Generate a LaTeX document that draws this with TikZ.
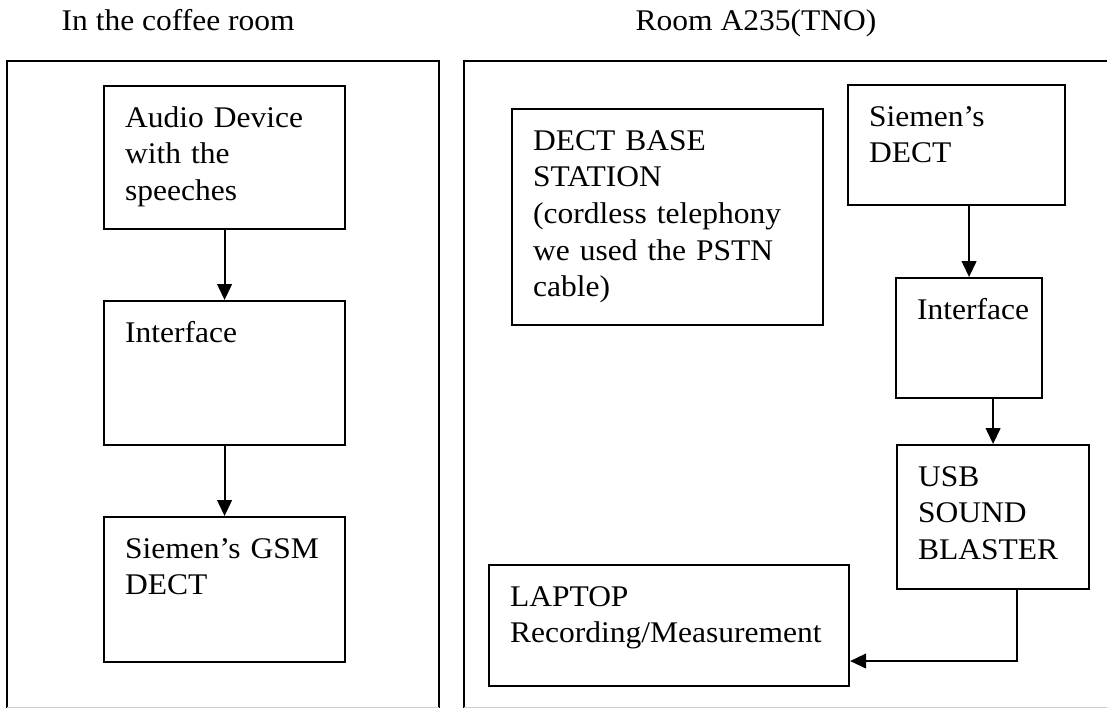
\documentclass[tikz,border=0pt]{standalone}
\usepackage{fontspec}
\setmainfont[FakeStretch=1.05]{Liberation Serif}
\usetikzlibrary{arrows.meta}

\begin{document}
\begin{tikzpicture}[x=0.75pt, y=-0.75pt,
    txt/.style={font=\fontsize{22.5}{27.5}\selectfont},
    room/.style={line width=1.6pt},
    unit/.style={draw, line width=1.6pt, anchor=north west, align=left,
      inner xsep=15.75pt, inner ysep=0pt, text height=30.75pt, txt},
    link/.style={line width=1.6pt, -{Triangle[length=12pt, width=11pt]}}]
  \useasboundingbox (0,0) rectangle (1107,708);

  % ---- the two rooms ----
  \node[txt, anchor=base west] (coffee) at (57,30) {In the coffee room};
  \node[txt, anchor=base west] (tno) at (631,30) {Room A235(TNO)};
  \draw[room] (7,708) |- (439,61) -- (439,708);
  \draw[room] (464,708) |- (1115,61);
  \draw[gray!40] (7,707.5) -- (439,707.5) (464,707.5) -- (1107,707.5);

  % ---- coffee room chain ----
  \node[unit, text width=149.25pt, text depth=76.5pt] (audio) at (103,85)
    {Audio Device\\with the\\speeches};
  \node[unit, text width=149.25pt, text depth=77.25pt] (iface1) at (103,300)
    {Interface};
  \node[unit, text width=149.25pt, text depth=78pt] (gsm) at (103,516)
    {Siemen's GSM\\DECT};
  \draw[link] (audio.south) -- (iface1.north);
  \draw[link] (iface1.south) -- (gsm.north);

  % ---- room A235 chain ----
  \node[unit, text width=201.75pt, text depth=131.25pt] (base) at (511,108)
    {DECT BASE\\STATION\\(cordless telephony\\we used the PSTN\\cable)};
  \node[unit, text width=131.25pt, text depth=59.25pt] (sdect) at (847,84)
    {Siemen's\\DECT};
  \node[unit, text width=78pt, text depth=59.25pt] (iface2) at (895,277)
    {Interface};
  \node[unit, text width=112.5pt, text depth=77.25pt] (usb) at (896,444)
    {USB\\SOUND\\BLASTER};
  \node[unit, text width=238.5pt, text depth=60pt] (laptop) at (488,564)
    {LAPTOP\\Recording/Measurement};
  \draw[link] (sdect.south -| iface2.north) -- (iface2.north);
  \draw[link] (iface2.south -| usb.north) -- (usb.north);
  \draw[link] ([xshift=18pt]usb.south) |- ([yshift=-26.6pt]laptop.east);
\end{tikzpicture}
\end{document}
